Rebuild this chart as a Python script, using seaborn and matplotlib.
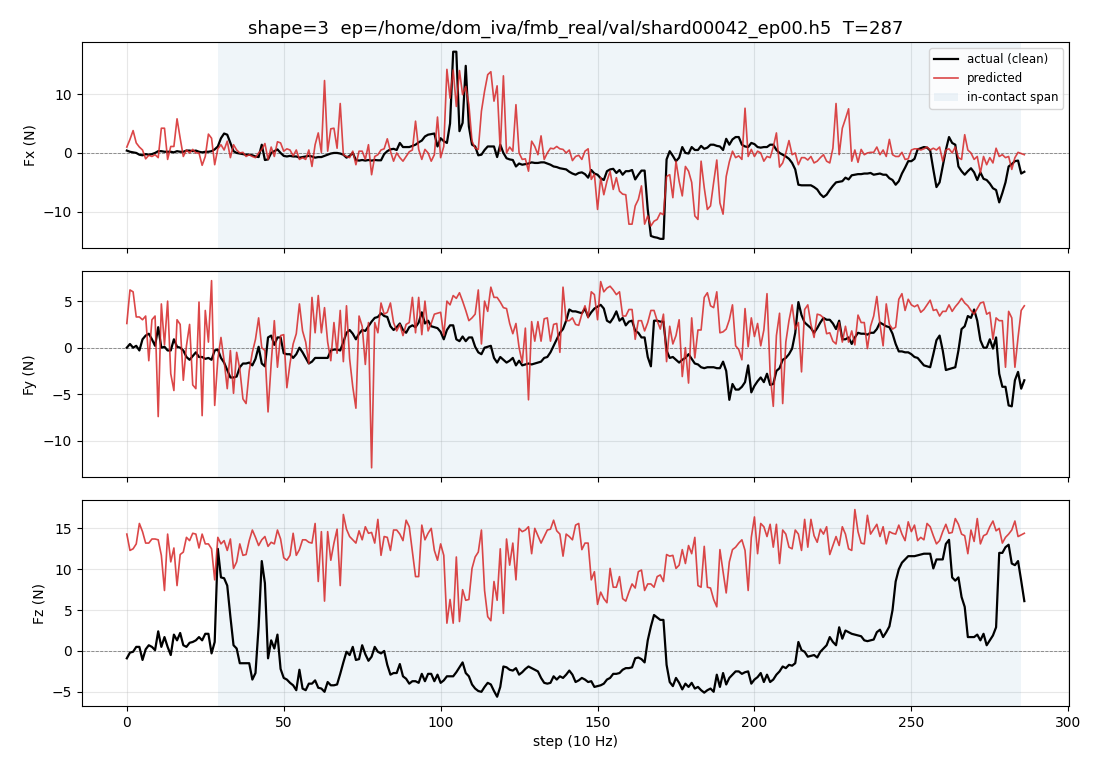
"""Actual vs predicted contact forces for one validation episode."""

import numpy as np
import matplotlib
matplotlib.use('Agg')
import matplotlib.pyplot as plt
from matplotlib.ticker import MultipleLocator
import seaborn as sns

TITLE = 'shape=3  ep=/home/dom_iva/fmb_real/val/shard00042_ep00.h5  T=287'
CONTACT_START = 29
CONTACT_END = 285

fx_actual = [
    0.4, 0.2, 0.1, 0.0, -0.3, -0.4, -0.2, -0.3, -0.2, 0.0,
    0.3, 0.3, 0.2, 0.2, 0.2, 0.1, 0.3, 0.2, 0.2, 0.4,
    0.4, 0.3, 0.4, 0.2, 0.1, 0.2, 0.2, 0.3, 0.6, 1.1,
    2.5, 3.3, 3.1, 1.7, 0.3, 0.0, -0.1, -0.2, -0.3, -0.3,
    -0.4, -0.6, -0.7, 1.4, -1.2, -1.1, 0.0, 0.3, 0.6, 0.0,
    -0.5, -0.6, -0.5, -0.6, -0.6, -0.8, -0.7, -0.6, -0.5, -0.6,
    -0.8, -0.7, -0.7, -0.5, -0.3, -0.1, 0.0, 0.0, -0.1, -0.3,
    -0.8, -0.5, 0.0, -1.2, -1.3, -1.2, -1.3, -1.2, -1.3, -1.2,
    -1.25, -1.25, -0.2, 0.3, 0.6, 0.7, 0.5, 1.7, 1.0, 1.0,
    1.0, 1.2, 1.4, 1.8, 2.1, 2.8, 3.1, 3.2, 3.3, 1.1,
    2.5, 2.0, 1.7, 5.0, 17.2, 17.2, 3.7, 5.1, 14.8, 4.5,
    1.4, 1.1, -0.4, -0.3, 0.5, 1.1, 1.1, 1.1, -0.7, 1.4,
    0.0, -0.9, -1.1, -1.2, -2.3, -1.8, -2.0, -1.9, -1.8, -1.6,
    -1.7, -1.7, -1.6, -1.6, -1.8, -2.0, -2.3, -2.4, -2.6, -2.7,
    -2.8, -3.2, -3.5, -3.7, -3.4, -3.3, -3.6, -4.2, -2.9, -3.5,
    -3.7, -4.3, -4.6, -3.1, -2.8, -2.7, -3.4, -2.9, -3.7, -3.1,
    -3.1, -2.9, -4.5, -3.7, -3.0, -3.0, -9.6, -14.1, -14.3, -14.4,
    -14.6, -14.6, -1.1, 0.3, -0.5, -1.4, -0.8, 1.0, 0.0, -0.1,
    1.0, 0.5, 0.5, 1.2, 0.7, 0.9, 1.4, 1.4, 1.2, 1.1,
    0.5, 2.4, 1.4, 2.3, 2.7, 2.7, 1.4, 1.1, 1.0, 1.7,
    1.5, 1.0, 0.9, 1.0, 1.0, 1.4, 1.4, 0.5, 0.0, -0.3,
    -0.6, -1.0, -1.7, -2.8, -5.4, -5.5, -5.5, -5.5, -5.5, -5.8,
    -6.2, -7.0, -7.5, -7.1, -6.3, -5.6, -5.0, -4.9, -4.8, -4.2,
    -4.5, -3.8, -3.7, -3.6, -3.6, -3.5, -3.5, -3.4, -3.7, -3.6,
    -3.5, -3.7, -3.7, -4.3, -4.6, -5.4, -4.8, -3.5, -2.5, -1.4,
    -1.4, -1.0, 0.6, 0.8, 1.0, 0.9, 0.4, -2.8, -5.8, -5.0,
    -2.2, 0.5, 2.7, 1.7, 1.4, -2.3, -3.1, -3.7, -3.1, -2.6,
    -3.3, -4.6, -3.3, -4.4, -4.6, -5.2, -6.0, -6.3, -8.4, -6.8,
    -5.0, -2.3, -1.9, -1.4, -1.3, -3.5, -3.2,
]

fx_pred = [
    1.0, 2.3, 3.8, 1.7, 1.0, 0.5, -1.0, -0.4, -0.6, -0.3,
    -0.8, 4.2, 4.2, -1.1, 1.1, 1.1, 5.8, 2.5, -0.6, 0.5,
    0.0, 0.6, 0.0, 0.0, -2.1, -0.6, 3.2, 2.5, -2.0, 0.7,
    1.4, 0.5, 2.0, -0.8, 1.4, 0.5, 0.0, 0.1, -0.6, -0.3,
    -0.6, -0.8, 0.0, 0.6, 1.6, -1.1, 1.0, -0.6, 1.9, 1.7,
    0.3, 0.7, 0.5, -0.5, 0.5, -1.1, -0.8, -1.1, 0.5, -2.3,
    1.4, 3.4, 0.1, 12.3, 0.3, 4.1, 4.2, 0.8, 8.4, -0.3,
    -0.6, -0.8, 0.3, -2.0, 0.3, 0.3, -1.1, 1.4, -3.7, -0.6,
    -0.3, 0.5, 0.7, 2.4, 0.3, -1.4, 0.0, -0.8, -1.4, -0.6,
    0.2, 0.5, 5.4, 0.6, -1.1, 0.6, 0.0, -1.4, -0.3, 6.1,
    -0.8, 1.1, 14.2, 9.3, 14.1, 7.9, 14.0, 9.9, 11.3, 8.2,
    2.0, 0.8, 0.6, 7.1, 10.5, 13.3, 13.8, 8.8, 11.4, 0.3,
    13.1, 0.0, 1.0, 0.3, 8.2, 0.0, -1.1, -1.0, -3.1, 2.0,
    1.1, -0.3, 2.9, -1.1, 0.0, 0.8, 0.7, 1.1, 0.7, 0.6,
    0.0, 0.5, -1.3, -0.6, -0.4, -1.1, 0.3, 0.7, -4.5, -3.6,
    -9.6, -4.2, -7.1, -4.8, -3.1, -6.2, -4.2, -6.5, -7.0, -7.1,
    -12.1, -12.1, -9.0, -7.9, -5.6, -12.1, -10.7, -12.4, -11.6, -11.3,
    -10.2, -10.5, -4.0, -3.7, -7.6, -1.4, -4.8, -7.3, -2.3, -3.1,
    -5.0, -10.7, -11.3, -1.4, -5.9, -9.6, -9.0, -5.0, -1.2, -8.5,
    -10.4, -4.0, -1.5, 0.3, -0.8, -0.5, -1.1, 7.6, -0.6, 0.6,
    -0.6, 0.3, 0.0, -1.4, -0.6, -0.8, 1.0, 3.4, -2.4, -1.7,
    0.0, 2.1, -0.3, 0.0, -2.0, -0.8, -0.8, -1.2, -0.6, -1.7,
    -1.4, -0.8, -0.3, -1.4, -1.7, 0.8, 8.4, -0.3, 4.2, 5.8,
    7.5, -1.4, 0.5, -1.6, 0.6, -0.3, 0.0, 0.1, 0.1, 1.0,
    -0.3, 0.5, -0.6, 2.3, -0.3, -0.6, -0.6, 0.1, -1.1, -1.0,
    0.5, 0.7, 0.7, 0.5, 0.7, 1.0, 0.5, 0.8, 0.5, 1.0,
    -1.4, 0.5, 0.7, 0.0, 1.0, -0.8, -1.1, 3.1, 0.5, 0.0,
    -1.1, -0.6, -3.4, -0.6, -2.0, -0.8, -1.7, 0.8, -0.6, -0.3,
    -0.8, -0.6, -2.8, -0.8, 0.1, -0.1, -0.3,
]

fy_actual = [
    0.0, 0.4, 0.0, 0.2, -0.3, 0.9, 1.3, 1.5, 0.9, 0.2,
    2.2, 0.0, 0.1, -0.3, -0.3, 0.9, 0.1, 0.0, -0.3, -1.0,
    -1.3, -0.9, -0.5, -1.0, -1.0, -1.2, -1.1, -1.3, -0.3, -0.2,
    -1.1, -1.6, -2.4, -3.2, -3.2, -3.1, -2.1, -1.7, -1.7, -1.6,
    -1.9, -1.2, 0.1, -1.7, -2.0, 1.1, 1.3, 0.3, 1.1, 1.1,
    -0.6, -0.7, -0.7, -1.1, -0.7, 0.0, -0.5, -1.1, -1.7, -1.5,
    -1.1, -1.1, -1.1, -1.1, -1.1, -0.3, -0.2, -0.2, -0.3, 0.6,
    1.6, 1.9, 1.5, 0.9, 1.5, 1.9, 1.8, 2.3, 2.8, 3.2,
    3.3, 3.7, 3.4, 3.3, 2.3, 1.9, 2.2, 2.6, 1.9, 1.6,
    2.2, 2.4, 2.2, 2.7, 3.8, 2.6, 2.9, 2.3, 2.2, 2.1,
    1.7, 0.9, 1.9, 2.4, 2.4, 0.9, 0.7, 1.2, 0.7, 1.1,
    1.1, 0.1, -0.5, -0.7, 0.0, 0.1, 0.2, -1.1, -1.6, -1.0,
    -1.3, -1.6, -1.4, -1.1, -1.9, -1.4, -1.9, -1.8, -1.7, -1.8,
    -1.7, -1.6, -1.5, -1.1, -1.0, -0.5, 0.2, 0.9, 1.6, 2.0,
    2.9, 4.1, 3.9, 3.9, 3.8, 3.7, 4.2, 3.3, 3.8, 4.2,
    4.4, 4.6, 4.2, 2.9, 2.7, 3.2, 3.9, 2.9, 3.2, 2.4,
    2.8, 2.9, 1.8, 1.6, 1.1, 1.1, -1.0, -2.0, 2.9, 2.9,
    2.8, 2.8, -0.3, -1.1, -1.0, -1.3, -1.6, -1.3, -1.1, -0.7,
    -1.2, -1.7, -1.8, -2.1, -2.2, -2.1, -2.1, -2.1, -2.2, -2.2,
    -1.5, -2.5, -5.6, -3.9, -4.5, -4.5, -4.2, -3.7, -1.9, -4.8,
    -4.1, -3.6, -3.2, -3.7, -2.8, -4.0, -3.9, -2.5, -2.2, -1.3,
    -1.1, -0.7, -0.1, 1.6, 4.9, 3.5, 2.7, 2.4, 2.1, 1.6,
    2.1, 2.7, 3.2, 3.0, 3.0, 2.6, 2.0, 2.9, 0.9, 0.9,
    1.1, 0.4, 1.1, 1.6, 1.5, 1.5, 1.4, 1.6, 1.6, 2.0,
    2.7, 2.5, 2.3, 2.2, 1.5, 0.4, -0.4, -0.4, -0.5, -0.5,
    -0.7, -1.0, -1.1, -1.5, -1.9, -2.0, -2.1, -0.7, 0.8, 1.3,
    -0.3, -2.4, -2.3, -2.2, -2.1, -0.3, 2.0, 2.3, 3.4, 3.2,
    4.1, 2.9, 0.8, 0.0, 0.0, 0.9, -0.1, 1.1, -2.8, -4.2,
    -4.2, -6.2, -6.3, -3.5, -2.6, -4.4, -3.5,
]

fy_pred = [
    2.6, 6.2, 6.0, 3.3, 3.3, 3.0, 3.4, -1.4, 3.0, 3.4,
    -7.4, 4.7, 0.3, 5.0, -2.8, -4.6, 3.0, 2.5, -3.5, 0.2,
    2.5, -4.0, -4.4, 4.9, -7.3, 4.0, 0.6, 7.2, -6.2, -1.2,
    1.1, -1.4, -4.4, -0.3, -4.9, -0.5, -2.3, -5.5, -6.0, -2.5,
    -0.5, 0.9, 3.2, 0.0, -0.3, -6.9, -1.7, 2.9, -2.1, 1.3,
    1.4, -4.3, -1.7, 0.4, 1.5, 4.7, 1.8, 0.6, -1.7, 5.4,
    1.6, 5.6, 1.6, 4.3, 0.6, -1.4, 2.7, -0.6, 4.0, -1.5,
    4.5, -1.2, -4.2, -6.5, 3.4, 2.3, -1.8, 2.7, -12.9, 2.7,
    1.6, 4.8, 3.6, 3.8, 4.8, 2.7, 1.8, 2.5, 1.3, 2.5,
    2.7, 5.4, 1.6, 5.4, 1.4, 5.0, 1.8, 2.6, 3.6, 3.7,
    3.8, 1.3, 5.0, 4.6, 5.6, 5.3, 5.9, 5.0, 4.0, 2.9,
    3.2, 3.6, 6.2, 0.4, 5.0, 3.9, 6.5, 5.4, 5.4, 4.9,
    4.3, 4.2, 2.6, 1.5, 2.6, 0.0, -1.6, 2.1, -5.6, 2.8,
    0.7, 2.8, 0.7, 3.1, 3.2, 0.7, 2.5, 2.6, -0.5, 6.5,
    2.9, 2.9, 3.2, 2.5, 2.4, 3.6, 4.5, 3.2, 6.0, 5.7,
    3.0, 7.1, 6.0, 6.4, 6.6, 6.2, 5.7, 6.0, 3.4, 3.4,
    4.1, 4.1, 0.9, 2.9, 2.9, 1.8, 2.7, 4.0, 4.0, 2.9,
    2.0, 3.6, -1.5, 2.3, 0.4, 1.3, 3.0, -3.1, 0.0, -3.8,
    3.2, -1.1, 1.9, 1.9, 5.4, 5.9, 4.5, 4.3, 6.0, 1.6,
    1.7, 2.0, 3.0, 4.6, 0.2, -0.2, -1.3, 4.2, 0.1, 3.2,
    1.2, 2.6, 0.2, 1.9, 5.8, -2.8, -6.3, 1.3, 3.7, -6.0,
    0.6, 2.9, 4.6, 2.0, 2.7, -2.6, 4.1, 4.6, 2.5, 1.1,
    3.6, 3.5, 3.2, 1.5, 1.6, 0.7, 0.4, 2.7, 0.6, 2.3,
    0.6, 1.8, 0.3, 3.5, 2.7, 2.7, -0.1, 2.3, 3.4, 5.5,
    2.5, 0.2, 4.7, 2.5, 2.0, 2.2, 5.2, 5.8, 4.0, 5.2,
    4.6, 4.4, 4.6, 3.8, 4.1, 4.6, 5.1, 4.0, 4.1, 3.4,
    3.9, 3.9, 4.6, 3.9, 4.4, 4.8, 5.3, 4.8, 4.5, 4.0,
    3.6, 4.2, 4.8, 4.9, 3.6, 3.8, 0.9, 3.2, 2.9, 2.9,
    -2.1, 3.9, 3.2, -2.1, 1.1, 4.0, 4.5,
]

fz_actual = [
    -0.9, -0.2, -0.1, 0.5, 0.5, -1.1, 0.2, 0.7, 0.5, 0.1,
    2.4, 0.5, 1.7, 0.5, -0.5, 2.0, 1.3, 2.2, 0.7, 0.5,
    1.0, 1.1, 1.3, 1.7, 1.3, 2.1, 2.1, -0.3, 1.1, 12.5,
    9.0, 8.9, 8.0, 4.2, 0.7, 0.3, -1.5, -1.5, -1.5, -1.5,
    -3.5, -2.7, 3.0, 11.0, 8.3, -0.9, 1.3, 0.3, 2.0, -2.2,
    -3.3, -3.5, -3.9, -4.2, -4.8, -2.3, -4.6, -4.8, -4.0, -4.0,
    -3.6, -4.5, -4.6, -5.0, -3.8, -4.2, -4.2, -4.1, -2.8, -1.4,
    -0.1, -0.5, 0.5, -1.1, -1.0, 0.7, -0.4, -1.2, -0.7, 0.5,
    -0.1, -0.3, 0.0, -1.7, -2.9, -2.7, -2.7, -1.6, -3.1, -3.4,
    -4.0, -3.7, -3.7, -3.9, -2.8, -3.7, -2.8, -2.8, -3.7, -2.9,
    -3.9, -3.6, -3.1, -3.1, -3.1, -2.6, -2.0, -1.4, -2.7, -3.1,
    -4.1, -4.6, -4.9, -5.0, -4.4, -3.9, -4.1, -4.9, -5.6, -4.4,
    -1.9, -2.0, -2.3, -2.4, -2.1, -2.9, -2.6, -2.2, -1.9, -2.1,
    -2.3, -2.5, -3.3, -3.9, -4.0, -3.9, -3.1, -3.5, -3.1, -3.3,
    -2.9, -2.4, -2.9, -3.8, -3.6, -3.3, -3.5, -3.8, -3.7, -4.4,
    -4.3, -4.2, -4.0, -3.5, -3.3, -2.8, -2.8, -2.7, -2.3, -2.1,
    -2.1, -2.0, -0.9, -0.8, -1.0, -1.4, 1.3, 3.0, 4.4, 4.1,
    3.8, 3.8, -1.7, -3.8, -4.3, -3.3, -3.9, -4.7, -4.0, -4.4,
    -3.9, -4.6, -4.4, -4.8, -5.1, -4.8, -4.6, -5.0, -2.9, -4.4,
    -2.7, -4.1, -3.3, -2.9, -2.5, -2.5, -2.8, -2.6, -2.5, -4.0,
    -3.5, -3.2, -2.7, -3.8, -2.9, -3.8, -3.5, -2.9, -2.5, -1.9,
    -2.1, -1.7, -1.8, -1.5, 1.1, 0.1, -0.1, -0.7, -0.6, -0.5,
    -0.8, -0.1, 0.3, 0.7, 1.7, 1.1, 0.7, 2.9, 1.5, 2.5,
    2.3, 2.1, 2.0, 1.9, 1.8, 1.3, 1.2, 1.3, 1.4, 2.3,
    2.6, 1.7, 2.3, 3.0, 5.0, 8.5, 10.0, 10.8, 11.2, 11.6,
    11.6, 11.6, 11.7, 11.8, 11.9, 11.9, 11.9, 10.1, 11.2, 11.2,
    11.2, 13.1, 13.6, 9.0, 8.6, 9.0, 6.6, 5.4, 1.7, 1.7,
    1.7, 2.0, 1.3, 2.1, 0.7, 1.3, 1.9, 2.9, 12.0, 12.0,
    12.7, 13.0, 10.7, 10.5, 11.0, 8.6, 6.1,
]

fz_pred = [
    14.3, 12.3, 12.5, 13.1, 15.6, 14.6, 13.2, 13.2, 13.7, 13.7,
    13.6, 11.7, 7.4, 14.3, 10.9, 12.6, 8.0, 11.8, 12.1, 13.9,
    13.5, 14.4, 14.3, 12.6, 14.3, 13.1, 13.1, 12.5, 8.7, 13.9,
    13.1, 13.5, 12.3, 13.7, 10.1, 10.9, 13.1, 11.7, 11.8, 13.5,
    14.8, 13.9, 12.9, 13.6, 14.0, 12.8, 13.3, 13.1, 14.8, 13.7,
    11.4, 11.1, 11.7, 14.4, 11.7, 12.4, 13.6, 13.6, 13.3, 13.2,
    15.6, 8.5, 14.6, 6.1, 14.6, 11.1, 13.2, 14.9, 8.0, 16.7,
    14.9, 14.0, 13.6, 13.2, 14.7, 13.6, 15.2, 14.4, 14.5, 13.2,
    16.1, 11.7, 14.0, 13.9, 12.3, 14.8, 14.8, 14.3, 13.5, 16.0,
    15.2, 12.1, 9.1, 9.1, 15.4, 13.6, 14.4, 15.0, 12.3, 11.1,
    13.1, 11.7, 3.4, 6.3, 3.4, 11.5, 3.6, 7.5, 6.2, 6.3,
    10.1, 11.5, 12.1, 14.8, 7.4, 4.2, 3.7, 8.5, 6.2, 12.5,
    4.6, 13.7, 10.5, 13.2, 8.7, 15.0, 14.6, 14.8, 15.2, 11.9,
    15.0, 14.1, 13.2, 14.0, 14.8, 14.9, 16.0, 14.7, 14.3, 11.6,
    14.3, 14.0, 13.6, 15.4, 15.6, 12.4, 13.2, 13.2, 8.7, 9.7,
    5.7, 7.2, 6.4, 5.9, 10.1, 7.8, 7.8, 9.1, 6.4, 6.1,
    7.2, 8.2, 7.7, 9.7, 9.9, 7.4, 8.2, 8.2, 7.8, 9.1,
    9.3, 8.5, 11.8, 11.6, 11.7, 10.1, 10.5, 12.4, 10.7, 12.9,
    11.9, 13.9, 8.0, 7.8, 12.8, 7.8, 7.7, 6.3, 5.4, 12.4,
    9.7, 7.1, 10.9, 12.4, 12.7, 13.2, 13.6, 12.3, 7.4, 13.9,
    16.4, 11.9, 15.6, 15.2, 14.0, 15.5, 12.7, 15.5, 10.7, 14.8,
    14.3, 12.7, 12.5, 14.8, 14.3, 12.3, 16.1, 12.7, 16.1, 14.1,
    13.3, 14.9, 14.3, 15.2, 11.8, 12.9, 14.0, 12.9, 15.2, 14.3,
    12.5, 12.3, 17.3, 14.6, 13.2, 13.1, 16.6, 14.3, 14.9, 15.5,
    14.0, 15.2, 13.1, 14.6, 14.4, 14.3, 15.4, 14.3, 13.5, 15.8,
    14.6, 15.4, 13.5, 13.9, 13.6, 15.6, 15.2, 14.1, 13.1, 13.5,
    14.6, 15.5, 14.4, 14.5, 16.2, 15.5, 14.3, 14.1, 11.9, 14.8,
    13.4, 16.2, 13.1, 14.1, 14.3, 15.2, 15.9, 14.7, 15.0, 13.2,
    13.9, 14.3, 14.8, 15.9, 14.0, 14.2, 14.4,
]

axis_labels = ['Fx (N)', 'Fy (N)', 'Fz (N)']
ytick_steps = [10, 5, 5]
actual_series = [fx_actual, fy_actual, fz_actual]
pred_series = [fx_pred, fy_pred, fz_pred]

steps = np.arange(len(fx_actual))

fig, axes = plt.subplots(3, 1, figsize=(11, 7.7), dpi=100, sharex=True)
fig.subplots_adjust(left=0.0745, right=0.972, top=0.945, bottom=0.083, hspace=0.112)

for i, ax in enumerate(axes):
    # shaded span where the gripper is in contact
    ax.axvspan(CONTACT_START, CONTACT_END, color='tab:blue', alpha=0.07,
               lw=0, label='in-contact span')
    ax.axhline(0, color='gray', linestyle='--', linewidth=0.6)
    sns.lineplot(x=steps, y=actual_series[i], ax=ax, color='black', linewidth=1.6,
                 label='actual (clean)', estimator=None, legend=False)
    sns.lineplot(x=steps, y=pred_series[i], ax=ax, color='tab:red', linewidth=1.2,
                 alpha=0.85, label='predicted', estimator=None, legend=False)
    ax.yaxis.set_major_locator(MultipleLocator(ytick_steps[i]))
    ax.set_ylabel(axis_labels[i])
    ax.grid(True, alpha=0.3)
    ax.set_axisbelow(True)

# legend order: actual, predicted, span
handles, labels = axes[0].get_legend_handles_labels()
order = [labels.index(l) for l in ['actual (clean)', 'predicted', 'in-contact span']]
axes[0].legend([handles[k] for k in order], [labels[k] for k in order],
               loc='upper right', fontsize=8.5)
axes[0].set_title(TITLE, fontsize=13)
axes[2].set_xlabel('step (10 Hz)')

plt.savefig('out.png', dpi=100)
print('Saved: out.png')
